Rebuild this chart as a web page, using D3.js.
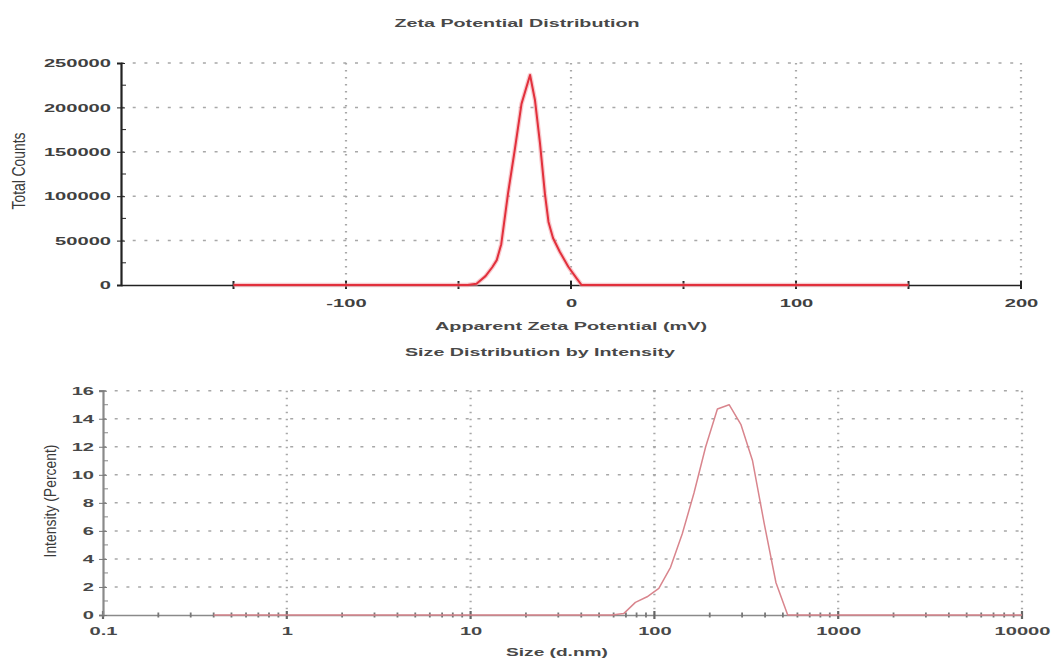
<!DOCTYPE html>
<html><head><meta charset="utf-8">
<script src="https://cdn.jsdelivr.net/npm/d3@7"></script>
<style>
html,body{margin:0;padding:0;background:#fff;}
svg{display:block;font-family:"Liberation Sans",Arial,sans-serif;}
</style></head><body>
<svg id="chart" width="1058" height="659"></svg>
<script>
// ---- Zeta potential distribution (apparent zeta potential, mV -> total counts)
const zetaMv     = [-150, -46, -42, -38, -35, -33, -31, -28, -25, -22, -18.2, -16, -13.8, -11.6, -10, -8, -5, -1.2, 2.5, 4.7, 150];
const zetaCounts = [0, 0, 1500, 10000, 20000, 28000, 46000, 103000, 152000, 204000, 236500, 208000, 160000, 103000, 71000, 53000, 37500, 20600, 7500, 0, 0];
const zetaXTicks = [-100, 0, 100, 200];
const zetaXMinor = [-150, -50, 50, 150];
const zetaYTicks = [0, 50000, 100000, 150000, 200000, 250000];
const zetaYMinor = [25000, 75000, 125000, 175000, 225000];

// ---- Size distribution by intensity (size d.nm -> intensity %)
const sizeNm       = [0.4, 58.77, 68.06, 78.82, 91.28, 105.7, 122.4, 141.8, 164.2, 190.1, 220.2, 255.0, 295.3, 342.0, 396.1, 458.7, 531.2, 10000];
const intensityPct = [0, 0, 0.1, 0.9, 1.3, 1.9, 3.4, 5.8, 8.7, 12.0, 14.7, 15.0, 13.6, 11.0, 6.5, 2.3, 0, 0];
const sizeXTicks = [0.1, 1, 10, 100, 1000, 10000];
const sizeYTicks = [0, 2, 4, 6, 8, 10, 12, 14, 16];
const sizeYMinor = [1, 3, 5, 7, 9, 11, 13, 15];

const SX = 1.75;          // horizontal widening of the lettering
const FONT = 11.5;
const svg = d3.select("#chart");

function wideTicks(g, color) {
  g.selectAll("text").each(function () {
    const t = d3.select(this);
    const x = +t.attr("x") || 0;
    t.attr("x", x / SX).attr("transform", `scale(${SX},1)`);
  });
  g.selectAll("text").attr("fill", color).attr("font-size", FONT).attr("font-weight", "bold")
    .attr("font-family", '"Liberation Sans", Arial, sans-serif');
}

function title(x, y, text, len) {
  svg.append("text").attr("x", x).attr("y", y).attr("text-anchor", "middle")
    .attr("font-size", FONT).attr("font-weight", "bold").attr("fill", "#484848")
    .attr("textLength", len).attr("lengthAdjust", "spacingAndGlyphs").text(text);
}

function vTitle(x, y, text, len, sy) {
  svg.append("g").attr("transform", `translate(${x},${y}) rotate(-90) scale(1,${sy})`)
    .append("text").attr("text-anchor", "middle")
    .attr("font-size", FONT).attr("fill", "#3a3a3a")
    .attr("textLength", len).attr("lengthAdjust", "spacingAndGlyphs").text(text);
}

function hGrid(g, vals, y, x0, x1) {
  g.selectAll(null).data(vals).join("line")
    .attr("x1", x0).attr("x2", x1).attr("y1", d => y(d)).attr("y2", d => y(d))
    .attr("stroke", "#a8a8a8").attr("stroke-width", 1.5).attr("stroke-dasharray", "3 8.7");
}
function vGrid(g, vals, x, y0, y1) {
  g.selectAll(null).data(vals).join("line")
    .attr("x1", d => x(d)).attr("x2", d => x(d)).attr("y1", y0).attr("y2", y1)
    .attr("stroke", "#a8a8a8").attr("stroke-width", 2.2).attr("stroke-dasharray", "1.6 5.4");
}

const plain = d => String(d);

// ================= Zeta potential panel =================
{
  const x = d3.scaleLinear().domain([-200, 200]).range([121, 1021]);
  const y = d3.scaleLinear().domain([0, 250000]).range([285, 63]);
  const g = svg.append("g");

  hGrid(g, zetaYTicks.slice(1), y, x(-200), x(200));
  vGrid(g, zetaXTicks, x, y(250000), y(0));

  // x axis
  const xa = g.append("g").attr("transform", `translate(0,${y(0)})`)
    .call(d3.axisBottom(x).tickValues(zetaXTicks).tickSizeOuter(0).tickSize(0).tickFormat(plain));
  xa.select(".domain").attr("stroke", "#222").attr("stroke-width", 1.4);
  xa.selectAll(".tick text").attr("y", 22).attr("dy", 0);
  wideTicks(xa, "#404040");
  g.selectAll(null).data(zetaXTicks.concat(zetaXMinor)).join("line")
    .attr("x1", d => x(d)).attr("x2", d => x(d)).attr("y1", y(0) - 4).attr("y2", y(0) + 4)
    .attr("stroke", "#222").attr("stroke-width", 2);

  // y axis
  const ya = g.append("g").attr("transform", `translate(${x(-200)},0)`)
    .call(d3.axisLeft(y).tickValues(zetaYTicks).tickSizeOuter(0).tickSize(4).tickPadding(6).tickFormat(plain));
  ya.select(".domain").attr("stroke", "#222").attr("stroke-width", 2.2);
  ya.selectAll(".tick line").attr("x2", 4).attr("x1", -4).attr("stroke", "#222");
  wideTicks(ya, "#404040");
  g.selectAll(null).data(zetaYMinor).join("line")
    .attr("x1", x(-200)).attr("x2", x(-200) + 5).attr("y1", d => y(d)).attr("y2", d => y(d))
    .attr("stroke", "#222").attr("stroke-width", 1);

  // distribution curve
  const line = d3.line().x((d, i) => x(zetaMv[i])).y(d => y(d));
  g.append("path").datum(zetaCounts).attr("d", line).attr("fill", "none")
    .attr("stroke", "#f2a0a8").attr("stroke-opacity", 0.55).attr("stroke-width", 4.5).attr("stroke-linejoin", "round");
  g.append("path").datum(zetaCounts).attr("d", line).attr("fill", "none")
    .attr("stroke", "#e2303c").attr("stroke-width", 2).attr("stroke-linejoin", "round");

  title(517, 27, "Zeta Potential Distribution", 245);
  title(571, 330, "Apparent Zeta Potential (mV)", 272);
  vTitle(25, 171, "Total Counts", 77, 1.6);
}

// ================= Size distribution panel =================
{
  const x = d3.scaleLog().domain([0.1, 10000]).range([103, 1022]);
  const y = d3.scaleLinear().domain([0, 16]).range([615, 390.7]);
  const g = svg.append("g");

  hGrid(g, sizeYTicks.slice(1), y, x(0.1), x(10000));
  vGrid(g, sizeXTicks.slice(1), x, y(16), y(0));

  const xa = g.append("g").attr("transform", `translate(0,${y(0)})`)
    .call(d3.axisBottom(x).tickValues(sizeXTicks).tickSizeOuter(0).tickSize(0).tickFormat(plain));
  xa.select(".domain").attr("stroke", "#8a8a8a").attr("stroke-width", 1.4);
  xa.selectAll(".tick text").attr("y", 20).attr("dy", 0);
  wideTicks(xa, "#484848");
  // decade and sub-decade tick marks
  const minor = x.ticks().filter(v => !sizeXTicks.includes(v));
  g.selectAll(null).data(minor).join("line")
    .attr("x1", d => x(d)).attr("x2", d => x(d)).attr("y1", y(0) - 2.5).attr("y2", y(0) + 2.5)
    .attr("stroke", "#777").attr("stroke-width", 1.8);
  g.selectAll(null).data(sizeXTicks).join("line")
    .attr("x1", d => x(d)).attr("x2", d => x(d)).attr("y1", y(0) - 4).attr("y2", y(0) + 4)
    .attr("stroke", "#666").attr("stroke-width", 2.2);

  const ya = g.append("g").attr("transform", `translate(${x(0.1)},0)`)
    .call(d3.axisLeft(y).tickValues(sizeYTicks).tickSizeOuter(0).tickSize(4).tickPadding(5).tickFormat(plain));
  ya.select(".domain").attr("stroke", "#8a8a8a").attr("stroke-width", 2.2);
  ya.selectAll(".tick line").attr("x2", 4).attr("x1", -4).attr("stroke", "#777");
  wideTicks(ya, "#484848");
  g.selectAll(null).data(sizeYMinor).join("line")
    .attr("x1", x(0.1)).attr("x2", x(0.1) + 5).attr("y1", d => y(d)).attr("y2", d => y(d))
    .attr("stroke", "#888").attr("stroke-width", 1);

  const line = d3.line().x((d, i) => x(sizeNm[i])).y(d => y(d));
  g.append("path").datum(intensityPct).attr("d", line).attr("fill", "none")
    .attr("stroke", "#d9858d").attr("stroke-width", 1.5).attr("stroke-linejoin", "round");

  title(540, 356, "Size Distribution by Intensity", 270);
  title(557, 656, "Size (d.nm)", 102);
  vTitle(56, 501, "Intensity (Percent)", 113, 1.5);
}
</script>
</body></html>
